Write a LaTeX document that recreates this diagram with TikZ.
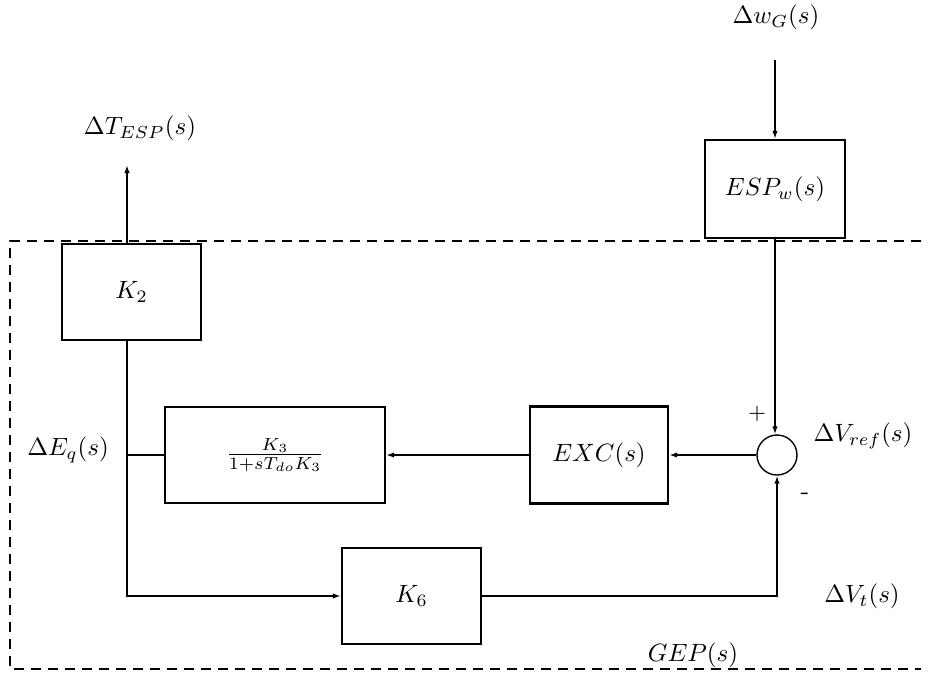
\documentclass[tikz,border=0pt]{standalone}
\usetikzlibrary{arrows.meta,calc}
\begin{document}
\begin{tikzpicture}[x=0.4pt,y=-0.4pt,
  every node/.style={font=\fontsize{10.4}{12.5}\selectfont},
  blk/.style={draw,line width=0.95pt,inner sep=0pt,minimum width=55.6pt,minimum height=38.4pt},
  sumnode/.style={draw,circle,line width=0.55pt,inner sep=0pt,minimum size=16pt},
  conn/.style={line width=0.95pt},
  sig/.style={conn,-{Latex[length=3.2pt,width=2.2pt]}},
  lbl/.style={inner sep=0pt},
  frame/.style={line width=0.95pt,dash pattern=on 4pt off 2.8pt}]
\useasboundingbox (0,0) rectangle (933,675);

% plant frame (open on the right)
\draw[frame] (921,241) -- (10,241) -- (10,669) -- (921,669);

% blocks
\node[blk] (K2) at (131.5,292) {$K_2$};
\node[blk,minimum width=56pt,minimum height=39.2pt] (ESP) at (775,189) {$ESP_w(s)$};
\node[blk,minimum width=88pt] (FR) at (275,455) {$\frac{K_3}{1+sT_{do}K_3}$};
\node[blk,minimum width=55.2pt,minimum height=38.8pt] (EXC) at (599,455) {$EXC(s)$};
\node[blk] (K6) at (411.5,596) {$K_6$};
\node[sumnode] (S) at (777,455) {};

% helper points
\coordinate (jn) at (127,455);
\coordinate (win) at (775,60);
\coordinate (tout) at (127,165);

% signal paths
\draw[sig] (win) -- (ESP.north);
\draw[sig] (ESP.south) -- (ESP.south |- S.north);
\draw[sig] (S.west) -- (EXC.east);
\draw[sig] (EXC.west) -- (FR.east);
\draw[conn] (FR.west) -- (jn);
\draw[sig] (K2.north -| jn) -- (tout);
\draw[sig] (K2.south -| jn) |- (K6.west);
\draw[sig] (K6.east) -| (S.south);

% labels
\node[lbl] (lw) at (776,17) {$\Delta w_G(s)$};
\node[lbl] (lt) at (140,128) {$\Delta T_{ESP}(s)$};
\node[lbl] (le) at (68,450) {$\Delta E_q(s)$};
\node[lbl] (lr) at (863,436) {$\Delta V_{ref}(s)$};
\node[lbl] (lv) at (862,596) {$\Delta V_t(s)$};
\node[lbl] (lg) at (693,655) {$GEP(s)$};
\node[lbl,font=\small] (lp) at (757,414) {$+$};
\node[lbl] (lm) at (805,496) {-};
\end{tikzpicture}
\end{document}
